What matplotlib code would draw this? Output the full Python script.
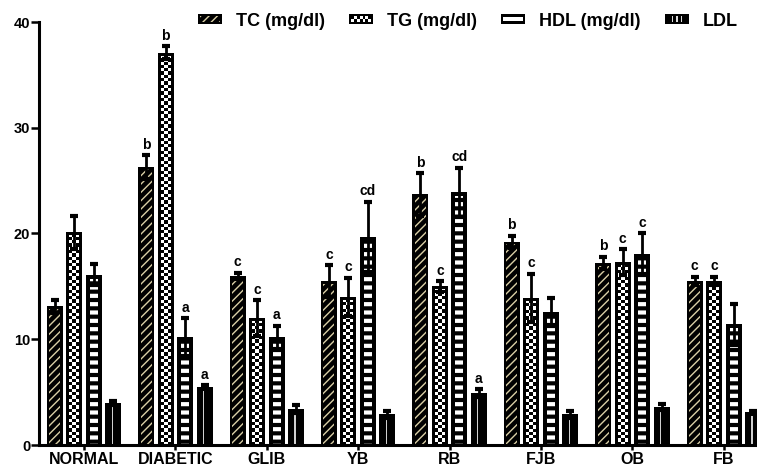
import numpy as np
import matplotlib
matplotlib.use('Agg')
import matplotlib.pyplot as plt
from matplotlib.patches import Rectangle
from matplotlib.legend_handler import HandlerBase

plt.rcParams['font.family'] = ['Liberation Sans', 'DejaVu Sans']
plt.rcParams['font.weight'] = 'bold'
plt.rcParams['axes.labelweight'] = 'bold'

# ---------------- data ----------------
groups = ['NORMAL', 'DIABETIC', 'GLIB', 'YB', 'RB', 'FJB', 'OB', 'FB']
series = ['TC (mg/dl)', 'TG (mg/dl)', 'HDL (mg/dl)', 'LDL']

tc = [13.1, 26.3, 16.0, 15.5, 23.7, 19.2, 17.2, 15.5]
tc_err = [0.6, 1.1, 0.3, 1.5, 2.0, 0.6, 0.6, 0.4]
tg = [20.1, 37.1, 12.0, 14.0, 15.0, 13.9, 17.3, 15.5]
tg_err = [1.6, 0.6, 1.7, 1.8, 0.5, 2.3, 1.2, 0.4]
hdl = [16.1, 10.2, 10.2, 19.7, 23.9, 12.6, 18.1, 11.4]
hdl_err = [1.0, 1.8, 1.1, 3.3, 2.3, 1.3, 1.9, 1.9]
ldl = [4.0, 5.5, 3.4, 2.9, 4.9, 2.9, 3.6, 3.1]
ldl_err = [0.2, 0.15, 0.35, 0.3, 0.35, 0.35, 0.3, 0.1]

tc_sig = ['', 'b', 'c', 'c', 'b', 'b', 'b', 'c']
tg_sig = ['', 'b', 'c', 'c', 'c', 'c', 'c', 'c']
hdl_sig = ['', 'a', 'a', 'cd', 'cd', '', 'c', '']
ldl_sig = ['', 'a', '', '', 'a', '', '', '']

yticks = [0, 10, 20, 30, 40]

# ---------------- layout ----------------
W, H = 757, 469
fig = plt.figure(figsize=(W / 100, H / 100), dpi=100)
ax = fig.add_axes([39 / W, (H - 445) / H, (W - 39) / W, (445 - 22) / H])
XL = (-0.492, 7.363)
ax.set_xlim(*XL)
ax.set_ylim(0, 40)

px_x = (XL[1] - XL[0]) / (W - 39)
px_y = 40 / (445 - 22)
pitch = 19.5 * px_x
bw = 16 * px_x
TAN = '#d9cfa6'

x = np.arange(len(groups))
offs = [-1.5, -0.5, 0.5, 1.5]

vals = [np.array(tc), np.array(tg), np.array(hdl), np.array(ldl)]
errs = [np.array(tc_err), np.array(tg_err), np.array(hdl_err), np.array(ldl_err)]
sigs = [tc_sig, tg_sig, hdl_sig, ldl_sig]


def set_hlw(bars, lw):
    for b in bars:
        if hasattr(b, 'set_hatch_linewidth'):
            b.set_hatch_linewidth(lw)


for k in range(4):
    xs = x + offs[k] * pitch
    v = vals[k]
    # black base bar
    ax.bar(xs, v, bw, color='black', linewidth=0, zorder=2)
    if k == 0:
        with plt.rc_context({'hatch.linewidth': 1.0}):
            b = ax.bar(xs, v - 2.5 * px_y, bw - 5 * px_x, facecolor='black',
                       edgecolor=TAN, hatch='////', linewidth=0, zorder=2.1)
        set_hlw(b, 1.0)
    elif k == 1:
        inner_w = bw - 6 * px_x
        ch = 3.3 * px_y
        for xi, vi in zip(xs, v):
            ih = vi - 3 * px_y
            ny = int(np.ceil(ih / ch)) + 1
            arr = (np.add.outer(np.arange(ny), np.arange(3)) % 2).astype(float)
            x0 = xi - inner_w / 2
            im = ax.imshow(arr, cmap='gray', vmin=0, vmax=1, origin='lower',
                           extent=[x0, x0 + inner_w, 0, ny * ch],
                           interpolation='nearest', aspect='auto', zorder=2.1)
            clip = Rectangle((x0, 0), inner_w, ih, transform=ax.transData)
            im.set_clip_path(clip)
    elif k == 2:
        with plt.rc_context({'hatch.linewidth': 3.0}):
            b = ax.bar(xs, v - 4 * px_y, bw - 8 * px_x, facecolor='black',
                       edgecolor='white', hatch='--', linewidth=0, zorder=2.1)
        set_hlw(b, 3.0)
    else:
        ax.bar(xs - 1 * px_x, v - 4 * px_y, 1.3 * px_x, color='#d0d0d0',
               linewidth=0, zorder=2.1)
    ax.errorbar(xs, v, yerr=errs[k], fmt='none', ecolor='black',
                elinewidth=2.0, capsize=2.6, capthick=3.0, zorder=3)
    for xi, vi, ei, s in zip(xs, v, errs[k], sigs[k]):
        if s:
            ax.annotate(s, (xi, vi + ei), xytext=(0, 2.5), textcoords='offset points',
                        ha='center', va='bottom', fontsize=10, fontweight='bold')

ax.set_xlim(*XL)
ax.set_ylim(0, 40)

for sp in ['top', 'right']:
    ax.spines[sp].set_visible(False)
for sp in ['left', 'bottom']:
    ax.spines[sp].set_linewidth(2.2)
    ax.spines[sp].set_zorder(4)

ax.set_yticks(yticks)
ax.set_yticklabels([str(t) for t in yticks], fontsize=10.5, fontweight='bold')
ax.set_xticks(x)
ax.set_xticklabels(groups, fontsize=11.5, fontweight='bold')
ax.tick_params(axis='x', direction='out', length=3.6, width=1.8, color='black', pad=1.5)
ax.tick_params(axis='y', direction='out', length=5.5, width=1.8, color='black', pad=0.8)


# ---------------- legend ----------------
class PatternHandler(HandlerBase):
    def __init__(self, kind):
        super().__init__()
        self.kind = kind

    def create_artists(self, legend, orig_handle, xdescent, ydescent, width,
                       height, fontsize, trans):
        x0, y0 = -xdescent, -ydescent
        arts = [Rectangle((x0, y0), width, height, facecolor='black',
                          edgecolor='none', transform=trans)]
        if self.kind == 0:
            r = Rectangle((x0 + 1.3, y0 + 1.3), width - 2.6, height - 2.6,
                          facecolor='black', edgecolor=TAN, hatch='////',
                          linewidth=0, transform=trans)
            arts.append(r)
        elif self.kind == 1:
            n = 7
            cw = (width - 3) / n
            chh = (height - 3) / 2
            for i in range(2):
                for j in range(n):
                    if (i + j) % 2 == 0:
                        arts.append(Rectangle((x0 + 1.5 + j * cw, y0 + 1.5 + i * chh),
                                              cw, chh, facecolor='white',
                                              edgecolor='none', transform=trans))
        elif self.kind == 2:
            arts.append(Rectangle((x0 + 1.6, y0 + height / 2 - 1.2), width - 3.2, 2.4,
                                  facecolor='white', edgecolor='none', transform=trans))
        else:
            for j in range(3):
                arts.append(Rectangle((x0 + width * (0.3 + 0.18 * j), y0 + 1.6), 0.9,
                                      height - 3.2, facecolor='#dddddd',
                                      edgecolor='none', transform=trans))
        return arts


handles = [Rectangle((0, 0), 1, 1) for _ in series]
hmap = {h: PatternHandler(i) for i, h in enumerate(handles)}
fig.legend(handles, series, handler_map=hmap, loc='center left',
           bbox_to_anchor=(198 / W, (H - 21) / H), bbox_transform=fig.transFigure,
           ncol=4, frameon=False, prop={'weight': 'bold', 'size': 13},
           handlelength=1.33, handleheight=0.47, handletextpad=0.78,
           columnspacing=1.33, borderpad=0, borderaxespad=0)

fig.savefig('out.png', dpi=100)
